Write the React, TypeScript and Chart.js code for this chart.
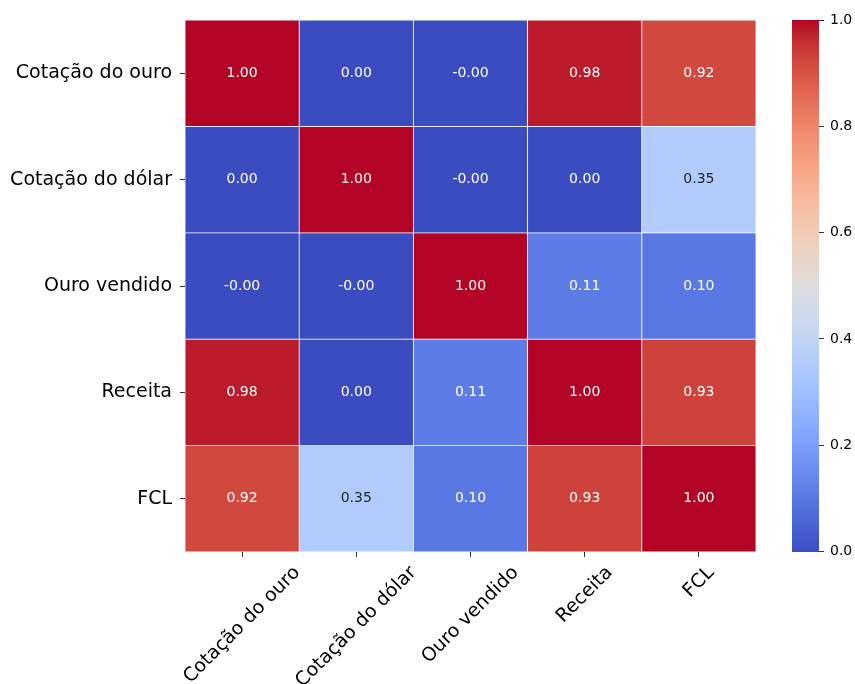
import React, { useEffect, useRef } from "react";
import { Chart, registerables } from "chart.js";

Chart.register(...registerables);

// Variables of the correlation matrix (row order = column order)
const variables = ["Cotação do ouro", "Cotação do dólar", "Ouro vendido", "Receita", "FCL"];

// Correlation rows
const rowOuro = [1.0, 0.0, -0.001, 0.98, 0.92];
const rowDolar = [0.0, 1.0, -0.001, 0.0, 0.35];
const rowVendido = [-0.001, -0.001, 1.0, 0.11, 0.1];
const rowReceita = [0.98, 0.0, 0.11, 1.0, 0.93];
const rowFcl = [0.92, 0.35, 0.1, 0.93, 1.0];
const matrix = [rowOuro, rowDolar, rowVendido, rowReceita, rowFcl];

// Colour bar ticks
const colorbarTicks = [0, 0.2, 0.4, 0.6, 0.8, 1.0];

const FONT = "'DejaVu Sans', 'Liberation Sans', sans-serif";
const LABEL_SIZE = 19;

// coolwarm colormap samples (evenly spaced 0..1)
const COOLWARM: number[][] = [
  [59, 76, 192], [68, 90, 204], [77, 104, 215], [87, 117, 225], [98, 130, 234],
  [108, 142, 241], [119, 154, 247], [130, 165, 251], [141, 176, 254], [152, 185, 255],
  [163, 194, 255], [174, 201, 253], [184, 208, 249], [194, 213, 244], [204, 217, 238],
  [213, 219, 230], [221, 221, 221], [229, 216, 209], [236, 211, 197], [241, 204, 184],
  [245, 196, 173], [247, 187, 160], [247, 177, 148], [247, 166, 135], [244, 154, 123],
  [241, 141, 111], [236, 127, 99], [229, 112, 88], [222, 96, 77], [213, 80, 66],
  [203, 62, 56], [192, 40, 47], [180, 4, 38],
];

const allValues = matrix.flat();
const vmin = Math.min(...allValues);
const vmax = Math.max(...allValues);

function coolwarmRGB(t: number): number[] {
  const u = Math.max(0, Math.min(1, t)) * (COOLWARM.length - 1);
  const i = Math.min(Math.floor(u), COOLWARM.length - 2);
  const f = u - i;
  const a = COOLWARM[i];
  const b = COOLWARM[i + 1];
  return [0, 1, 2].map((k) => a[k] + (b[k] - a[k]) * f);
}

function colorFor(v: number): string {
  const [r, g, b] = coolwarmRGB((v - vmin) / (vmax - vmin));
  return `rgb(${Math.round(r)},${Math.round(g)},${Math.round(b)})`;
}

function textColorFor(v: number): string {
  const rgb = coolwarmRGB((v - vmin) / (vmax - vmin)).map((c) => {
    const s = c / 255;
    return s <= 0.03928 ? s / 12.92 : Math.pow((s + 0.055) / 1.055, 2.4);
  });
  const lum = 0.2126 * rgb[0] + 0.7152 * rgb[1] + 0.0722 * rgb[2];
  return lum > 0.408 ? "#262626" : "#ffffff";
}

// Writes the correlation value in the middle of every cell
const annotatePlugin = {
  id: "annotateCells",
  afterDatasetsDraw(chart: any) {
    const { ctx } = chart;
    const xs = chart.scales.x;
    const ys = chart.scales.y;
    ctx.save();
    ctx.font = `14px ${FONT}`;
    ctx.textAlign = "center";
    ctx.textBaseline = "middle";
    matrix.forEach((row, r) => {
      row.forEach((v, c) => {
        ctx.fillStyle = textColorFor(v);
        ctx.fillText(v.toFixed(2), xs.getPixelForValue(c), ys.getPixelForValue(r + 0.5));
      });
    });
    ctx.restore();
  },
};

// Column labels rotated 45°, centred under their tick
const rotatedXLabels = {
  id: "rotatedXLabels",
  afterDraw(chart: any) {
    const { ctx, chartArea } = chart;
    const xs = chart.scales.x;
    const h = LABEL_SIZE * 1.16;
    const top = chartArea.bottom + 5 + 5;
    ctx.save();
    ctx.font = `${LABEL_SIZE}px ${FONT}`;
    ctx.fillStyle = "#000";
    ctx.textAlign = "center";
    ctx.textBaseline = "middle";
    variables.forEach((label, i) => {
      const L = ctx.measureText(label).width;
      const half = (L + h) / (2 * Math.SQRT2);
      const x = xs.getPixelForValue(i);
      ctx.save();
      ctx.translate(x, top + half);
      ctx.rotate(-Math.PI / 4);
      ctx.fillText(label, 0, 0);
      ctx.restore();
    });
    ctx.restore();
  },
};

function Heatmap() {
  const ref = useRef<HTMLCanvasElement>(null);
  useEffect(() => {
    if (!ref.current) return;
    const datasets = matrix.map((row, r) => ({
      label: variables[r],
      data: row.map(() => [r, r + 1]),
      backgroundColor: row.map((v) => colorFor(v)),
      borderColor: "#ffffff",
      borderWidth: 0.75,
      borderSkipped: false,
      grouped: false,
      barPercentage: 1,
      categoryPercentage: 1,
    }));
    const chart = new Chart(ref.current, {
      type: "bar",
      data: { labels: variables, datasets: datasets as any },
      options: {
        responsive: false,
        animation: false,
        layout: { padding: { top: 20, right: 24, left: 0, bottom: 0 } },
        plugins: { legend: { display: false }, tooltip: { enabled: false } },
        scales: {
          x: {
            type: "category",
            offset: true,
            border: { display: false },
            grid: { drawOnChartArea: false, drawTicks: true, tickLength: 5, tickColor: "#333", offset: false },
            ticks: { display: false },
            afterFit: (s: any) => {
              s.height = 132;
            },
          },
          y: {
            type: "linear",
            reverse: true,
            min: 0,
            max: 5,
            border: { display: false },
            grid: { drawOnChartArea: false, drawTicks: true, tickLength: 5, tickColor: "#333" },
            afterBuildTicks: (s: any) => {
              s.ticks = variables.map((_, i) => ({ value: i + 0.5 }));
            },
            ticks: {
              autoSkip: false,
              padding: 8,
              color: "#000",
              font: { family: FONT, size: LABEL_SIZE },
              callback: (v: any) => variables[Math.floor(Number(v))],
            },
            afterFit: (s: any) => {
              s.width = 185;
            },
          },
        },
      },
      plugins: [annotatePlugin, rotatedXLabels],
    });
    return () => chart.destroy();
  }, []);
  return (
    <canvas
      ref={ref}
      width={780}
      height={684}
      style={{ position: "absolute", left: 0, top: 0, width: 780, height: 684 }}
    />
  );
}

function ColorBar() {
  const ref = useRef<HTMLCanvasElement>(null);
  useEffect(() => {
    if (!ref.current) return;
    const chart = new Chart(ref.current, {
      type: "bar",
      data: {
        labels: ["escala"],
        datasets: [
          {
            data: [[vmin, vmax]] as any,
            borderWidth: 0,
            barPercentage: 1,
            categoryPercentage: 1,
            backgroundColor: (c: any) => {
              const area = c.chart.chartArea;
              if (!area) return "#ccc";
              const g = c.chart.ctx.createLinearGradient(0, area.bottom, 0, area.top);
              COOLWARM.forEach((rgb, i) => {
                g.addColorStop(i / (COOLWARM.length - 1), `rgb(${rgb[0]},${rgb[1]},${rgb[2]})`);
              });
              return g;
            },
          },
        ],
      },
      options: {
        responsive: false,
        animation: false,
        layout: { padding: { top: 20, left: 32, right: 0, bottom: 132 } },
        plugins: { legend: { display: false }, tooltip: { enabled: false } },
        scales: {
          x: { display: false },
          y: {
            position: "right",
            min: vmin,
            max: vmax,
            border: { display: false },
            grid: { drawOnChartArea: false, drawTicks: true, tickLength: 5, tickColor: "#333" },
            afterBuildTicks: (s: any) => {
              s.ticks = colorbarTicks.map((v) => ({ value: v }));
            },
            ticks: {
              padding: 6,
              color: "#000",
              font: { family: FONT, size: 14 },
              callback: (v: any) => Number(v).toFixed(1),
            },
            afterFit: (s: any) => {
              s.width = 36;
            },
          },
        },
      },
    });
    return () => chart.destroy();
  }, []);
  return (
    <canvas
      ref={ref}
      width={95}
      height={684}
      style={{ position: "absolute", left: 760, top: 0, width: 95, height: 684 }}
    />
  );
}

export default function App() {
  return (
    <div
      style={{
        position: "absolute",
        left: 0,
        top: 0,
        width: 855,
        height: 684,
        overflow: "hidden",
        background: "#ffffff",
      }}
    >
      <Heatmap />
      <ColorBar />
    </div>
  );
}
